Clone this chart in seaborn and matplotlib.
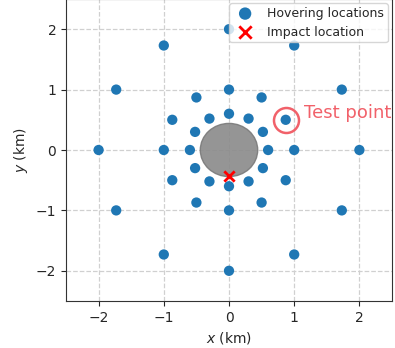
import matplotlib
matplotlib.use("Agg")
import matplotlib.pyplot as plt
import seaborn as sns
import pandas as pd
from matplotlib.patches import Circle

# Hovering locations (km): outer ring r=2, middle ring r=1, inner ring r=0.6
hover_x = [0.0, 1.0, 1.73, 2.0, 1.73, 1.0, 0.0, -1.0, -1.73, -2.0, -1.73, -1.0,
           0.0, 0.5, 0.87, 1.0, 0.87, 0.5, 0.0, -0.5, -0.87, -1.0, -0.87, -0.5,
           0.0, 0.3, 0.52, 0.6, 0.52, 0.3, 0.0, -0.3, -0.52, -0.6, -0.52, -0.3]
hover_y = [2.0, 1.73, 1.0, 0.0, -1.0, -1.73, -2.0, -1.73, -1.0, 0.0, 1.0, 1.73,
           1.0, 0.87, 0.5, 0.0, -0.5, -0.87, -1.0, -0.87, -0.5, 0.0, 0.5, 0.87,
           0.6, 0.52, 0.3, 0.0, -0.3, -0.52, -0.6, -0.52, -0.3, 0.0, 0.3, 0.52]

impact_x = [0.0]
impact_y = [-0.43]

obstacle_radius = 0.44
test_point = (0.87, 0.5)

sns.set_style("ticks")
plt.rcParams["font.family"] = ["DejaVu Sans"]

fig = plt.figure(figsize=(3.95, 3.48), dpi=100)
ax = fig.add_axes([66 / 395, 47 / 348, 326 / 395, 302 / 348])

ax.grid(True, linestyle="--", color="#d0d0d0", linewidth=0.9)
ax.set_axisbelow(True)

ax.add_patch(Circle((0, 0), obstacle_radius, facecolor="#8a8a8a",
                    edgecolor="#7a7a7a", alpha=0.9, zorder=2))

hover = pd.DataFrame({"x": hover_x, "y": hover_y})
sns.scatterplot(data=hover, x="x", y="y", ax=ax, color="#1f77b4", s=55,
                edgecolor="none", label="Hovering locations", zorder=3)

impact = pd.DataFrame({"x": impact_x, "y": impact_y})
sns.scatterplot(data=impact, x="x", y="y", ax=ax, color="red", marker="x",
                s=55, linewidth=2, label="Impact location", zorder=4)

ax.plot(test_point[0], test_point[1], marker="o", markersize=18,
        markerfacecolor="none", markeredgecolor="#f0505a", markeredgewidth=1.8,
        alpha=0.9, zorder=5)
ax.text(test_point[0] + 0.28, test_point[1] + 0.11, "Test point",
        color="#f0505a", fontsize=13, va="center", ha="left", alpha=0.9)

ax.set_xlim(-2.5, 2.5)
ax.set_ylim(-2.5, 2.5)
ax.set_xticks([-2, -1, 0, 1, 2])
ax.set_yticks([-2, -1, 0, 1, 2])
ax.tick_params(labelsize=10)
ax.set_xlabel("$x$ (km)", fontsize=10)
ax.set_ylabel("$y$ (km)", fontsize=10)
for sp in ax.spines.values():
    sp.set_color("#333333")

ax.legend(loc="upper right", fontsize=9, borderpad=0.28, handlelength=2.0,
          handletextpad=0.77, labelspacing=0.45, borderaxespad=0.35,
          framealpha=0.8, markerscale=1.2)

fig.savefig("out.png", dpi=100)
